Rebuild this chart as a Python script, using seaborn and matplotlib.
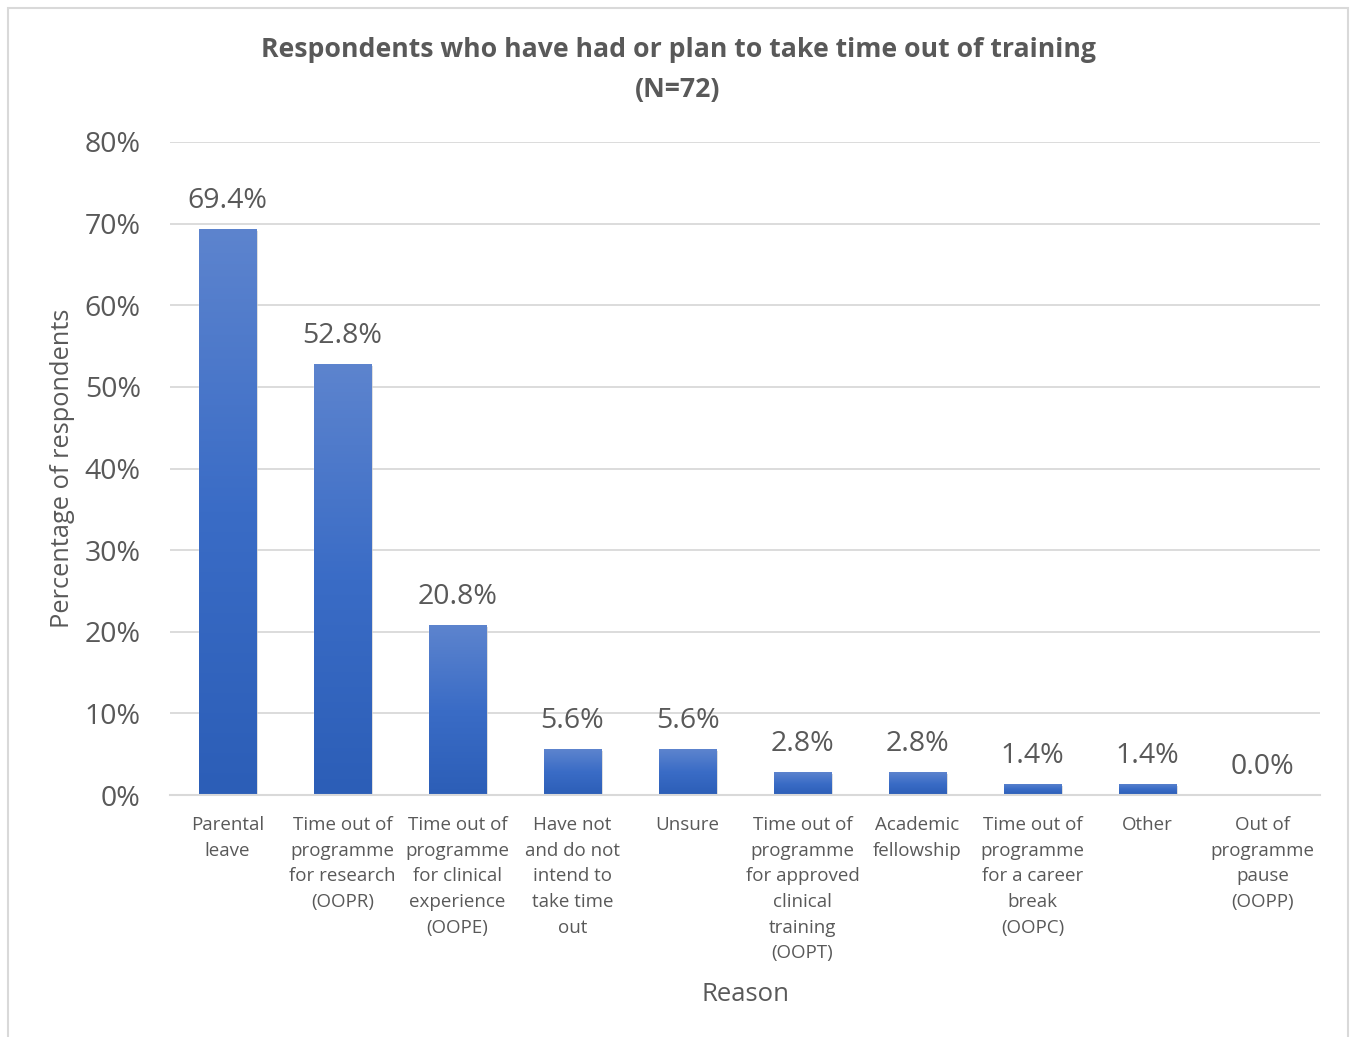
import matplotlib
matplotlib.use("Agg")
import matplotlib.pyplot as plt
import seaborn as sns
import numpy as np
import pandas as pd
from matplotlib.patches import Rectangle
from matplotlib.colors import LinearSegmentedColormap
import matplotlib.patheffects as pe

categories = [
    "Parental\nleave",
    "Time out of\nprogramme\nfor research\n(OOPR)",
    "Time out of\nprogramme\nfor clinical\nexperience\n(OOPE)",
    "Have not\nand do not\nintend to\ntake time\nout",
    "Unsure",
    "Time out of\nprogramme\nfor approved\nclinical\ntraining\n(OOPT)",
    "Academic\nfellowship",
    "Time out of\nprogramme\nfor a career\nbreak\n(OOPC)",
    "Other",
    "Out of\nprogramme\npause\n(OOPP)",
]
values = [0.694, 0.528, 0.208, 0.056, 0.056, 0.028, 0.028, 0.014, 0.014, 0.0]
value_labels = ["69.4%", "52.8%", "20.8%", "5.6%", "5.6%", "2.8%", "2.8%", "1.4%", "1.4%", "0.0%"]
y_ticks = [0, 0.1, 0.2, 0.3, 0.4, 0.5, 0.6, 0.7, 0.8]
y_ticklabels = ["0%", "10%", "20%", "30%", "40%", "50%", "60%", "70%", "80%"]

sns.set_theme(style="white")
plt.rcParams['font.family'] = ['Open Sans', 'DejaVu Sans']

TXT = "#595959"
W, H = 1353, 1037
fig = plt.figure(figsize=(W / 100, H / 100), dpi=100)
ax = fig.add_axes([170 / W, 1 - 795 / H, 1150 / W, 653 / H])

df = pd.DataFrame({"cat": categories, "val": values})
sns.barplot(data=df, x="cat", y="val", color="#4472C4", width=0.5, ax=ax,
            saturation=1, zorder=3)

cmap = LinearSegmentedColormap.from_list("g", ["#2C5EB7", "#3A6CC6", "#5D84CE"])
grad = np.linspace(0, 1, 256).reshape(-1, 1)
for p in ax.patches:
    x0, y0 = p.get_x(), p.get_y()
    w, h = p.get_width(), p.get_height()
    p.set_path_effects([pe.SimplePatchShadow(offset=(1.5, -1.5), shadow_rgbFace="#bbbbbb", alpha=0.6), pe.Normal()])
    if h > 0:
        im = ax.imshow(grad, extent=(x0, x0 + w, y0, y0 + h), origin="lower",
                       cmap=cmap, aspect="auto", zorder=3.5)
        im.set_clip_path(p)

ax.set_xlim(-0.5, len(categories) - 0.5)
ax.set_ylim(0, 0.8)
ax.set_yticks(y_ticks)
ax.set_yticklabels(y_ticklabels, fontsize=20.5, color=TXT)
ax.tick_params(axis="y", length=0, pad=21)
ax.tick_params(axis="x", length=0, pad=15)
ax.set_xticks(range(len(categories)))
ax.set_xticklabels(categories, fontsize=13.5, color=TXT, linespacing=1.55, va="top")
ax.grid(axis="y", color="#D9D9D9", linewidth=1.3, zorder=0)
ax.set_axisbelow(True)
for s in ["top", "right", "left"]:
    ax.spines[s].set_visible(False)
ax.spines["bottom"].set_color("#D9D9D9")
ax.spines["bottom"].set_linewidth(1.5)
ax.spines["bottom"].set_zorder(5)

for i, (v, lab) in enumerate(zip(values, value_labels)):
    ax.annotate(lab, (i, v), xytext=(0, 10), textcoords="offset points",
                ha="center", va="bottom", fontsize=20.5, color=TXT)

ax.set_xlabel("Reason", fontsize=18.5, color=TXT, labelpad=14)
ax.set_ylabel("Percentage of respondents", fontsize=18.3, color=TXT, labelpad=7)

fig.text(678 / W, 1 - 70 / H,
         "Respondents who have had or plan to take time out of training\n(N=72)",
         ha="center", va="center", fontsize=19.2, fontweight="bold", color=TXT,
         linespacing=1.72)

fig.patches.append(Rectangle((8 / W, -0.01), 1340 / W, 1 - 8 / H + 0.01,
                             transform=fig.transFigure, fill=False,
                             edgecolor="#D9D9D9", linewidth=1.5))

fig.savefig("out.png", dpi=100, facecolor="white")
